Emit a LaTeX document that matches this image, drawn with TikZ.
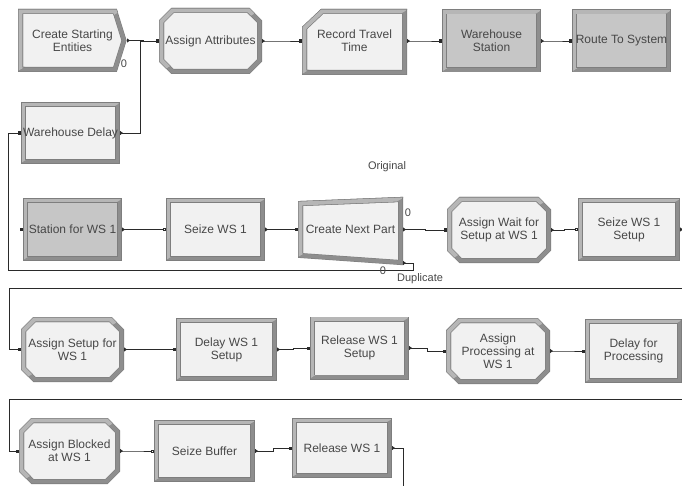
\documentclass[tikz,border=0pt]{standalone}
\usepackage{fontspec}
\setmainfont{Liberation Sans}
\usetikzlibrary{arrows.meta,calc}
\definecolor{txt}{HTML}{474747}
\definecolor{bord}{HTML}{7E7E7E}
\definecolor{bandl}{HTML}{B6B6B6}
\definecolor{bandd}{HTML}{8E8E8E}
\definecolor{lightfill}{HTML}{F1F1F1}
\definecolor{grayfill}{HTML}{C6C6C6}
\definecolor{wire}{HTML}{2A2A2A}
% bevelled module outline: #1 path, #2 fill colour, #3 clip region of the light half
\newcommand\bevelmod[3]{%
  \path[fill=#2] #1;
  \path[modband, double=bandd] #1;
  \begin{scope}\clip #3;\path[modband, double=bandl] #1;\end{scope}}
% rectangle module: name, cx, cy, W, H, fill, text
\newcommand\rectmod[7]{%
  \pgfmathsetmacro\mxa{#2-#4/2+2.5}\pgfmathsetmacro\mxb{#2+#4/2-2.5}%
  \pgfmathsetmacro\mya{#3-#5/2+2.5}\pgfmathsetmacro\myb{#3+#5/2-2.5}%
  \bevelmod{(\mxa,\mya) rectangle (\mxb,\myb)}{#6}%
    {($(\mxa,\myb)!-0.3!(\mxb,\mya)$) -- (\mxa-15,\mya-15) -- ($(\mxb,\mya)!-0.3!(\mxa,\myb)$) -- cycle}%
  \node[txtnode={#4pt}{#5pt}] (#1) at (#2,#3) {#7};}
% octagonal (assign) module: name, cx, cy, W, H, fill, text
\newcommand\octmod[7]{%
  \pgfmathsetmacro\mxa{#2-#4/2+2.5}\pgfmathsetmacro\mxb{#2+#4/2-2.5}%
  \pgfmathsetmacro\mya{#3-#5/2+2.5}\pgfmathsetmacro\myb{#3+#5/2-2.5}%
  \bevelmod{(\mxa,\mya+11) -- (\mxa+11,\mya) -- (\mxb-11,\mya) -- (\mxb,\mya+11) -- (\mxb,\myb-11) -- (\mxb-11,\myb) -- (\mxa+11,\myb) -- (\mxa,\myb-11) -- cycle}{#6}%
    {($(\mxa,\myb)!-0.3!(\mxb,\mya)$) -- (\mxa-15,\mya-15) -- ($(\mxb,\mya)!-0.3!(\mxa,\myb)$) -- cycle}%
  \node[txtnode={#4pt}{#5pt}] (#1) at (#2,#3) {#7};}
\begin{document}
\begin{tikzpicture}[x=1pt,y=-1pt,
  modband/.style={draw=bord, double distance=3.9pt, line width=0.55pt, line join=miter},
  txtnode/.style 2 args={text=txt, font=\fontsize{12}{13}\selectfont, align=center, inner sep=0pt, outer sep=0pt, minimum width=#1, minimum height=#2},
  lbl/.style={text=txt, font=\fontsize{11}{12}\selectfont, inner sep=0pt},
  conn/.style={draw=wire, line width=0.8pt, arrows={Triangle[reversed,length=3pt,width=4pt]-Square[length=3pt,width=3pt]}},
  connh/.style={draw=wire, line width=0.8pt, arrows={Triangle[reversed,length=3pt,width=4pt]-Square[open,length=3pt,width=3pt]}},
  hvjog/.style={to path={-| ($(\tikztostart)!.5!(\tikztotarget)$) |- (\tikztotarget) \tikztonodes}}
]
\useasboundingbox[fill=white] (0,0) rectangle (682,486);

% ---- Row 1 ----
\bevelmod{(20.5,11.5) -- (115,11.5) -- (124,40.5) -- (115,69.5) -- (20.5,69.5) -- cycle}{lightfill}%
  {($(20.5,69.5)!-0.3!(120,11.5)$) -- (5,-5) -- ($(120,11.5)!-0.3!(20.5,69.5)$) -- cycle}
\node[txtnode={109pt}{63pt}] (cse) at (72.5,40.5) {Create Starting\\Entities};
\octmod{aa}{210.5}{41}{103}{66}{lightfill}{Assign Attributes}
\bevelmod{(304.5,28) -- (322,11.5) -- (404.5,11.5) -- (404.5,72.5) -- (304.5,72.5) -- cycle}{lightfill}%
  {($(304.5,72.5)!-0.3!(404.5,11.5)$) -- (289,-4) -- ($(404.5,11.5)!-0.3!(304.5,72.5)$) -- cycle}
\node[txtnode={105pt}{66pt}] (rtt) at (354.5,41) {Record Travel\\Time};
\rectmod{ws}{491.5}{41}{99}{63}{grayfill}{Warehouse\\Station}
\rectmod{rts}{621.5}{41}{99}{63}{grayfill}{Route To System}
\rectmod{wd}{70.5}{133}{99}{62}{lightfill}{Warehouse Delay}

% ---- Row 2 ----
\rectmod{sfw}{72.5}{229.5}{99}{63}{grayfill}{Station for WS 1}
\rectmod{sw}{215.5}{229.5}{99}{63}{lightfill}{Seize WS 1}
\bevelmod{(300.5,203.5) -- (400.5,199.5) -- (400.5,262.5) -- (300.5,255.5) -- cycle}{lightfill}%
  {($(300.5,255.5)!-0.3!(400.5,199.5)$) -- (285,188) -- ($(400.5,199.5)!-0.3!(300.5,255.5)$) -- cycle}
\node[txtnode={105pt}{62pt}] (cnp) at (350.5,229.5) {Create Next Part};
\octmod{awf}{499}{230}{104}{66}{lightfill}{Assign Wait for\\Setup at WS 1}
\rectmod{sws}{629}{229.5}{102}{63}{lightfill}{Seize WS 1\\Setup}

% ---- Row 3 ----
\octmod{asf}{72.5}{349.5}{103}{65}{lightfill}{Assign Setup for\\WS 1}
\rectmod{dws}{226.5}{349.5}{101}{63}{lightfill}{Delay WS 1\\Setup}
\rectmod{rws}{359.5}{348}{99}{63}{lightfill}{Release WS 1\\Setup}
\octmod{apw}{498}{351}{104}{66}{lightfill}{Assign\\Processing at\\WS 1}
\rectmod{dfp}{633.5}{351}{97}{64}{lightfill}{Delay for\\Processing}

% ---- Row 4 ----
\octmod{abw}{69.5}{451}{101}{66}{lightfill}{Assign Blocked\\at WS 1}
\rectmod{sb}{204.5}{451}{101}{62}{lightfill}{Seize Buffer}
\rectmod{rw1}{342}{448}{100}{60}{lightfill}{Release WS 1}

% ---- helper coordinates ----
\coordinate (j1) at (140,41);
\coordinate (cnpd) at (403,263);
\coordinate (offr1) at (700,229.5);
\coordinate (offr2) at (700,351);
\coordinate (offb) at (403,500);

% ---- connectors ----
\draw[conn] (cse.east) to[hvjog] (aa.west);
\draw[conn] (wd.east) -| (j1) -- (aa.west);
\draw[conn] (aa.east) to[hvjog] (rtt.west);
\draw[conn] (rtt.east) to[hvjog] (ws.west);
\draw[conn] (ws.east) to[hvjog] (rts.west);

\fill[wire] ($(sfw.west)+(-3.2,-1.5)$) rectangle ++(3,3);
\draw[connh] (sfw.east) to[hvjog] (sw.west);
\draw[conn] (sw.east) to[hvjog] (cnp.west);
\draw[conn] (cnp.east) to[hvjog] (awf.west);
\draw[connh] (awf.east) to[hvjog] (sws.west);
\draw[conn] (cnpd) -- (413,263) -- (413,270) -- (8,270) |- (wd.west);
\draw[conn] (sws.east) -- (offr1) |- (9,288) |- (asf.west);

\draw[conn] (asf.east) to[hvjog] (dws.west);
\draw[conn] (dws.east) to[hvjog] (rws.west);
\draw[conn] (rws.east) to[hvjog] (apw.west);
\draw[conn] (apw.east) to[hvjog] (dfp.west);
\draw[conn] (dfp.east) -- (offr2) |- (9,399.5) |- (abw.west);

\draw[connh] (abw.east) to[hvjog] (sb.west);
\draw[conn] (sb.east) to[hvjog] (rw1.west);
\draw[draw=wire, line width=0.8pt, arrows={Triangle[reversed,length=3pt,width=4pt]-}] (rw1.east) -| (offb);

% ---- labels ----
\node[lbl] (z1) at (124,64) {0};
\node[lbl] (z2) at (408,213) {0};
\node[lbl] (z3) at (383,271) {0};
\node[lbl] (orig) at (387,167) {Original};
\node[lbl] (dup) at (420,279) {Duplicate};
\end{tikzpicture}
\end{document}
